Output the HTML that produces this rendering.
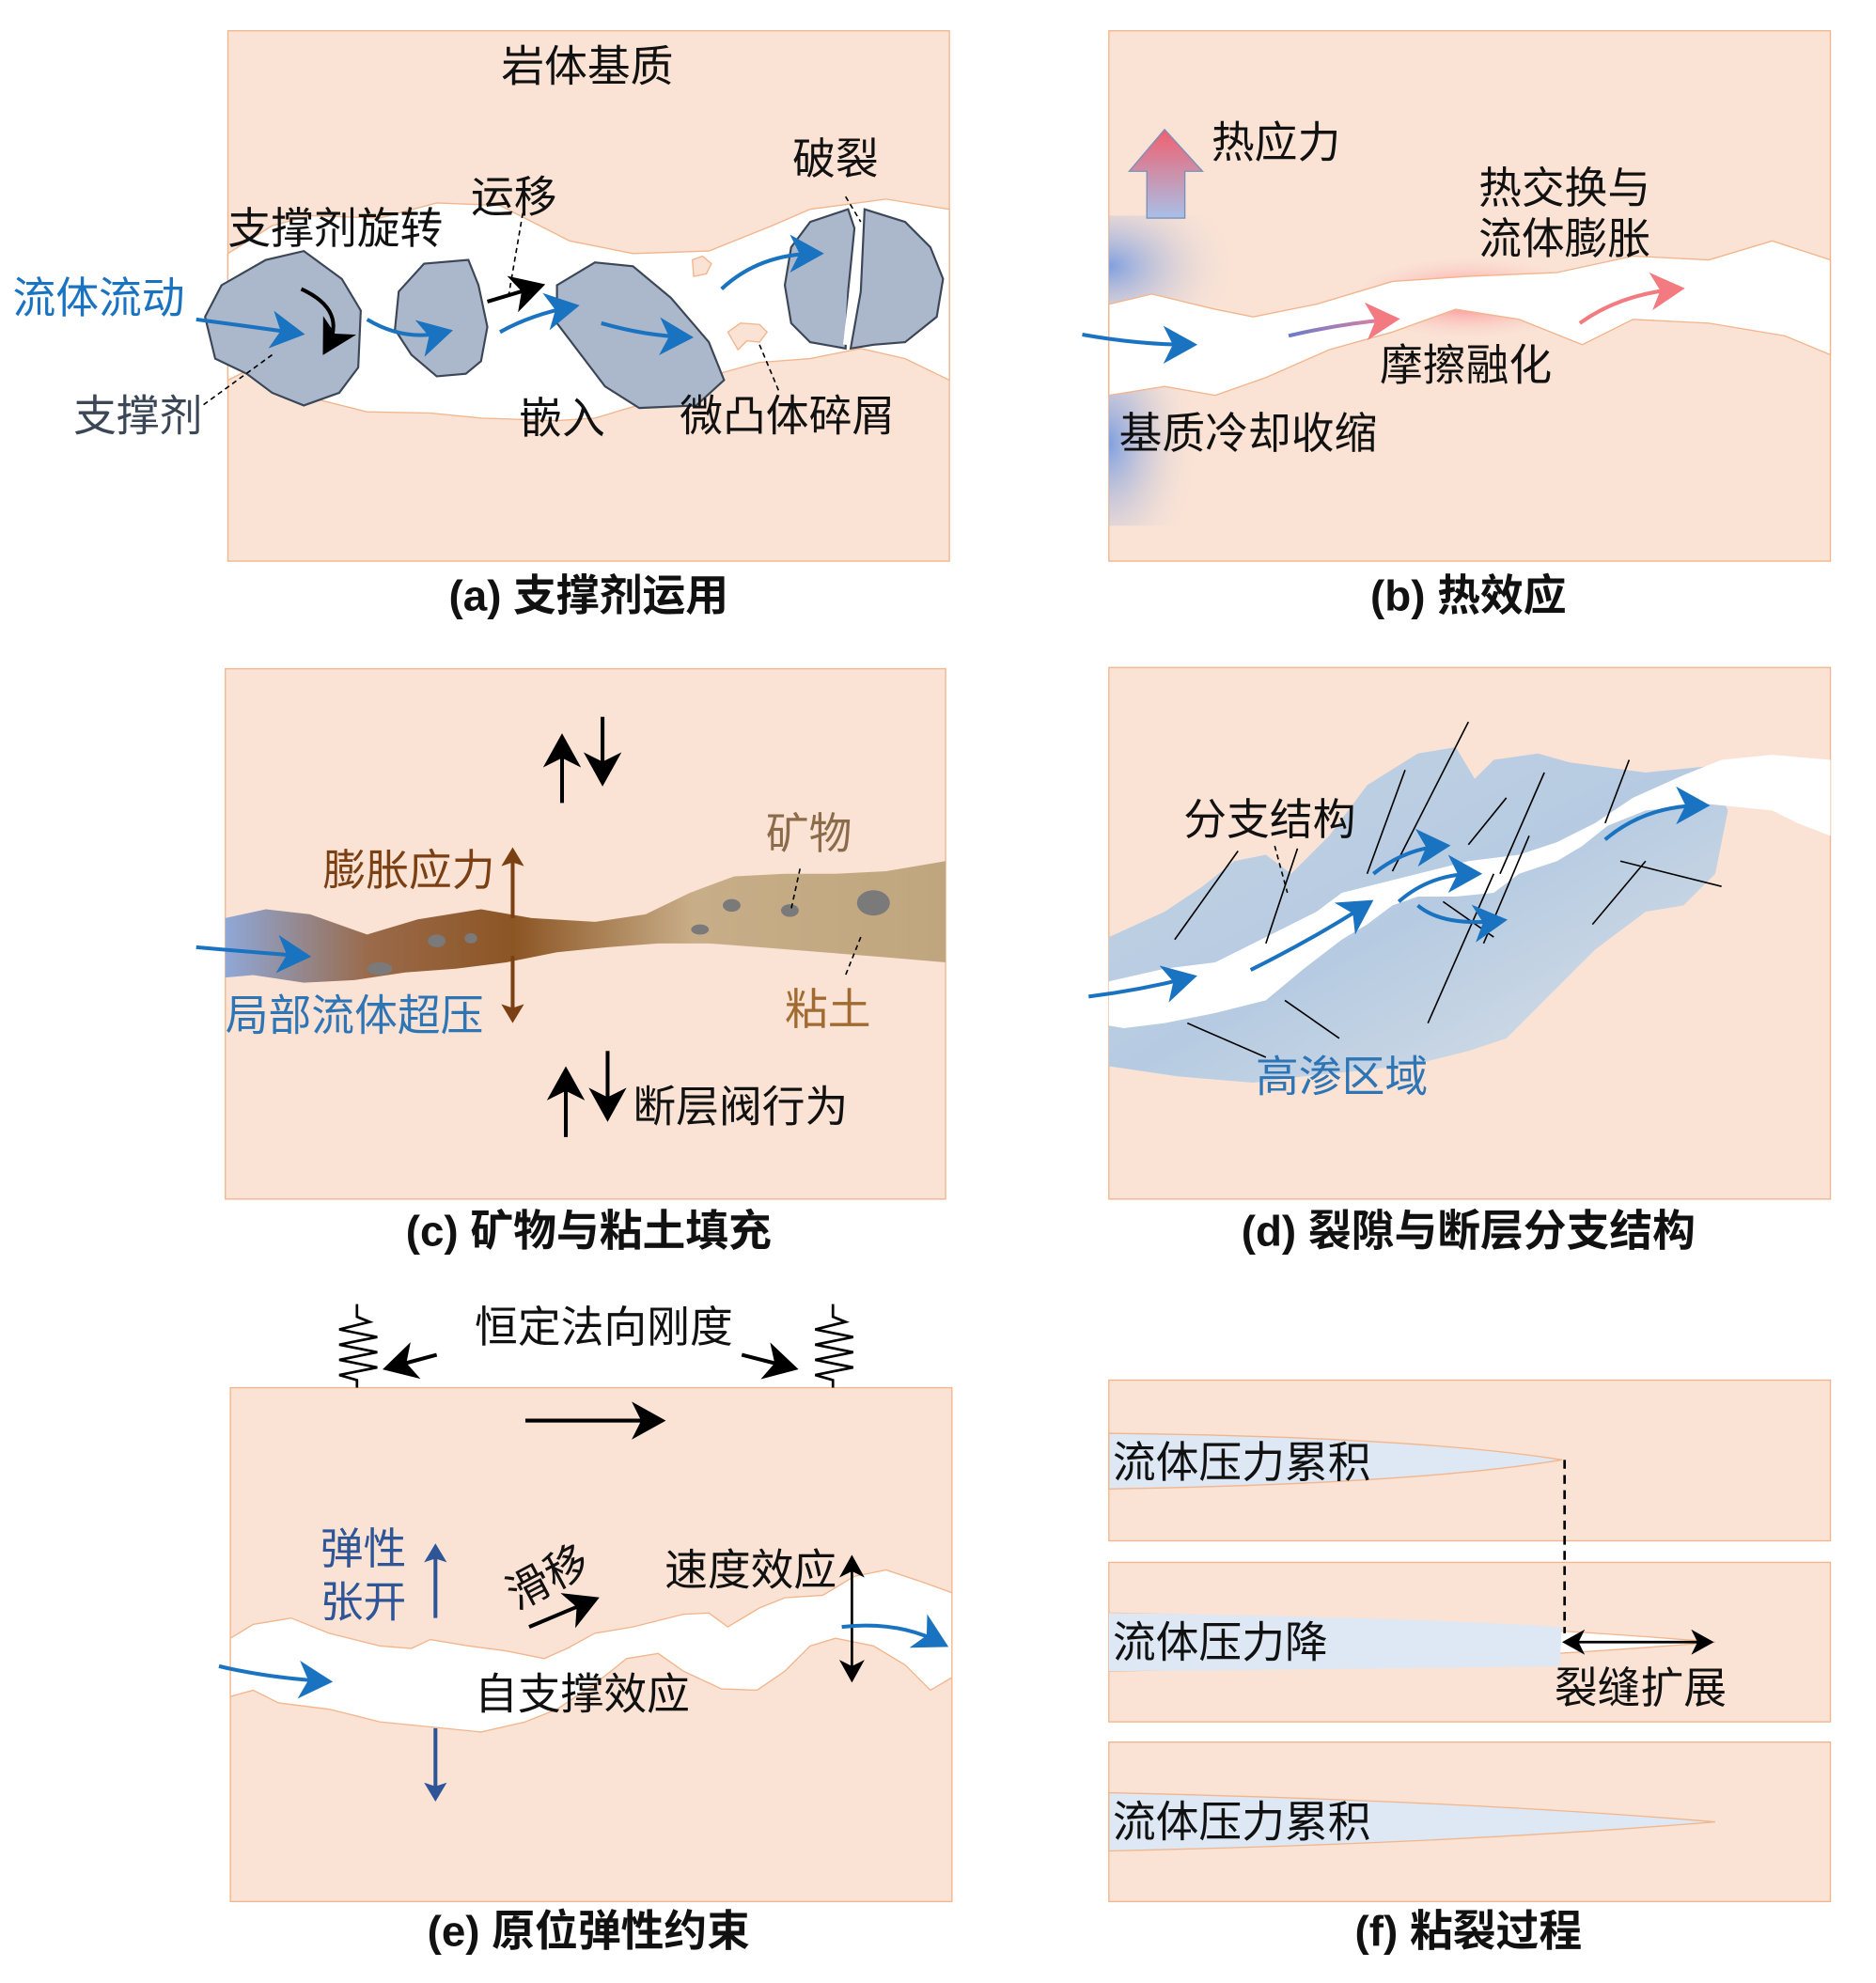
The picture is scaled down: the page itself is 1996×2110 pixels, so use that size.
<!DOCTYPE html>
<html><head><meta charset="utf-8"><style>
html,body{margin:0;padding:0;background:#fff}
svg{display:block}
text{font-family:"Liberation Sans","Noto Sans CJK SC",sans-serif}
.l{font-size:34px;fill:#111}
.cap{font-size:34px;font-weight:bold;fill:#111}
</style></head><body>
<svg width="1996" height="2110" viewBox="0 0 1482 1566" xmlns="http://www.w3.org/2000/svg">
<defs>
<marker id="ab" markerWidth="10" markerHeight="10" refX="7" refY="5" orient="auto" markerUnits="strokeWidth"><path d="M0,0 L9,5 L0,10 L2.5,5z" fill="#1a73c0"/></marker>
<marker id="ak" markerWidth="10" markerHeight="10" refX="7" refY="5" orient="auto-start-reverse" markerUnits="strokeWidth"><path d="M0,0 L9,5 L0,10 L2.5,5z" fill="#000"/></marker>
<marker id="ar" markerWidth="10" markerHeight="10" refX="7" refY="5" orient="auto" markerUnits="strokeWidth"><path d="M0,0 L9,5 L0,10 L2.5,5z" fill="#f27a80"/></marker>
<marker id="an" markerWidth="6" markerHeight="6" refX="4" refY="3" orient="auto" markerUnits="strokeWidth"><path d="M0,0 L5,3 L0,6 L1,3z" fill="#2e5597"/></marker>
<marker id="abr" markerWidth="6" markerHeight="6" refX="4" refY="3" orient="auto" markerUnits="strokeWidth"><path d="M0,0 L5,3 L0,6 L1,3z" fill="#7a3f12"/></marker>
<linearGradient id="up" x1="0" y1="0" x2="0" y2="1"><stop offset="0" stop-color="#f0606e"/><stop offset="1" stop-color="#a8c0e8"/></linearGradient>
<radialGradient id="cold1" cx="0" cy="0.5" r="0.9"><stop offset="0" stop-color="#7f9fe0"/><stop offset="1" stop-color="#fae3d5" stop-opacity="0"/></radialGradient>
<radialGradient id="hot" cx="0.5" cy="0.5" r="0.5"><stop offset="0" stop-color="#ff6a78"/><stop offset="1" stop-color="#fae3d5" stop-opacity="0"/></radialGradient>
<linearGradient id="clay" x1="0" y1="0" x2="1" y2="0"><stop offset="0" stop-color="#8fa8d8"/><stop offset="0.2" stop-color="#9a6a4a"/><stop offset="0.4" stop-color="#8c5524"/><stop offset="0.65" stop-color="#c8ae88"/><stop offset="1" stop-color="#c0a67e"/></linearGradient>
<linearGradient id="perm" x1="0" y1="0" x2="1" y2="1"><stop offset="0" stop-color="#c4d2e2"/><stop offset="0.5" stop-color="#b6cbe2"/><stop offset="1" stop-color="#dde1e6"/></linearGradient>
<linearGradient id="pg" x1="0" y1="0" x2="1" y2="0"><stop offset="0" stop-color="#6a7cc8"/><stop offset="1" stop-color="#e880a0"/></linearGradient>
</defs>
<g stroke="#f2b58c" stroke-width="1" fill="#fae3d5">
<rect x="180" y="24" width="570" height="419"/>
<rect x="876" y="24" width="570" height="419"/>
<rect x="178" y="528" width="569" height="419"/>
<rect x="876" y="527" width="570" height="420"/>
<rect x="182" y="1096" width="570" height="406"/>
<rect x="876" y="1090" width="570" height="127"/>
<rect x="876" y="1234" width="570" height="126"/>
<rect x="876" y="1376" width="570" height="126"/>
</g>

<!-- Panel a -->
<path d="M180,200 L215,178 L245,170 L300,172 L345,160 L395,162 L450,190 L500,200 L560,198 L610,178 L640,165 L700,157 L750,165 L750,300 L715,283 L680,275 L640,283 L600,286 L560,297 L520,315 L470,330 L440,332 L380,330 L340,326 L290,325 L250,315 L220,300 L200,290 L180,300 Z" fill="#fff" stroke="#f2b58c"/>
<path d="M547,205 L555,202 L562,208 L558,216 L548,218Z" fill="#fae3d5" stroke="#f2b58c"/>
<path d="M575,262 L585,255 L600,256 L606,262 L600,270 L590,269 L583,276Z" fill="#fae3d5" stroke="#f2b58c"/>
<g fill="#abb7cb" stroke="#3b4757" stroke-width="1.6">
<path d="M210,205 L240,198 L270,220 L285,245 L283,290 L268,310 L240,320 L215,310 L195,295 L170,283 L162,250 L175,225Z"/>
<path d="M335,208 L370,205 L378,225 L385,258 L380,285 L368,295 L345,297 L325,280 L312,260 L315,230Z"/>
<path d="M470,207 L500,210 L530,235 L560,270 L572,300 L550,320 L505,322 L478,305 L440,255 L440,225Z"/>
<path d="M640,175 L670,165 L675,180 L670,230 L668,275 L640,270 L625,255 L620,225 L625,195Z"/>
<path d="M683,165 L715,175 L735,195 L745,220 L740,250 L715,270 L690,272 L672,275 L680,230Z"/>
</g>
<line x1="680" y1="168" x2="668" y2="272" stroke="#fff" stroke-width="4"/>
<g fill="none" stroke="#1a73c0" stroke-width="3" marker-end="url(#ab)">
<path d="M155,252 Q200,258 235,263"/>
<path d="M290,252 Q320,270 352,262"/>
<path d="M395,262 Q420,248 452,242"/>
<path d="M475,255 Q510,265 542,266"/>
<path d="M570,228 Q600,200 645,200"/>
</g>
<path d="M238,228 Q275,245 258,275" fill="none" stroke="#000" stroke-width="3" marker-end="url(#ak)"/>
<line x1="385" y1="238" x2="425" y2="226" stroke="#000" stroke-width="3" marker-end="url(#ak)"/>
<g stroke="#000" stroke-width="1.2" stroke-dasharray="4,3" fill="none">
<line x1="413" y1="168" x2="402" y2="232"/>
<line x1="215" y1="280" x2="160" y2="320"/>
<line x1="600" y1="272" x2="615" y2="308"/>
<line x1="668" y1="155" x2="680" y2="175"/>
</g>
<text class="l" x="396" y="64">岩体基质</text>
<text class="l" x="626" y="137">破裂</text>
<text class="l" x="372" y="167">运移</text>
<text class="l" x="180" y="192">支撑剂旋转</text>
<text class="l" x="10" y="247" style="fill:#1a73c0">流体流动</text>
<text class="l" x="58" y="340" style="fill:#3b4757">支撑剂</text>
<text class="l" x="410" y="342">嵌入</text>
<text class="l" x="537" y="340">微凸体碎屑</text>
<text class="cap" x="465" y="482" text-anchor="middle">(a) 支撑剂运用</text>

<!-- Panel b -->
<rect x="876" y="170" width="115" height="80" fill="url(#cold1)"/>
<rect x="876" y="285" width="80" height="130" fill="url(#cold1)"/>
<ellipse cx="1160" cy="235" rx="100" ry="35" fill="url(#hot)"/>
<path d="M876,240 L910,232 L960,244 L990,250 L1040,240 L1100,222 L1160,218 L1230,215 L1290,202 L1350,205 L1400,190 L1446,205 L1446,280 L1410,265 L1350,255 L1290,252 L1250,272 L1200,252 L1150,244 L1100,262 L1050,276 L1000,298 L960,312 L920,305 L876,312 Z" fill="#fff" stroke="#f2b58c"/>
<path d="M892,135 L920,102 L950,135 L936,135 L936,172 L906,172 L906,135Z" fill="url(#up)" stroke="#7a90b8" stroke-width="1"/>
<g fill="none" stroke-width="3">
<path d="M855,264 Q900,272 940,272" stroke="#1a73c0" marker-end="url(#ab)"/>
<path d="M1018,265 Q1060,255 1100,252" stroke="url(#pg)" marker-end="url(#ar)"/>
<path d="M1248,255 Q1280,232 1325,228" stroke="#f27a80" marker-end="url(#ar)"/>
</g>
<text class="l" x="957" y="124">热应力</text>
<text class="l" x="1168" y="160">热交换与</text>
<text class="l" x="1168" y="200">流体膨胀</text>
<text class="l" x="1090" y="300">摩擦融化</text>
<text class="l" x="884" y="354">基质冷却收缩</text>
<text class="cap" x="1160" y="482" text-anchor="middle">(b) 热效应</text>

<!-- Panel c -->
<path d="M178,725 L210,718 L245,722 L290,738 L330,726 L380,718 L420,725 L470,728 L510,722 L545,705 L580,692 L620,690 L660,690 L700,688 L747,680 L747,760 L700,756 L650,752 L600,748 L560,745 L520,745 L480,748 L440,752 L400,760 L360,765 L320,768 L280,774 L240,776 L200,770 L178,772 Z" fill="url(#clay)"/>
<g fill="#7a7a7a">
<ellipse cx="345" cy="743" rx="7" ry="5"/><ellipse cx="372" cy="741" rx="5" ry="4"/><ellipse cx="300" cy="765" rx="10" ry="5"/>
<ellipse cx="578" cy="715" rx="7" ry="5"/><ellipse cx="624" cy="719" rx="7" ry="5"/><ellipse cx="690" cy="713" rx="13" ry="10"/><ellipse cx="553" cy="734" rx="7" ry="4"/>
</g>
<path d="M155,748 Q200,752 240,755" fill="none" stroke="#1a73c0" stroke-width="3" marker-end="url(#ab)"/>
<g stroke="#7a3f12" stroke-width="3" marker-end="url(#abr)"><line x1="405" y1="725" x2="405" y2="672"/><line x1="405" y1="755" x2="405" y2="805"/></g>
<g stroke="#000" stroke-width="3" marker-end="url(#ak)">
<line x1="444" y1="634" x2="444" y2="585"/><line x1="476" y1="566" x2="476" y2="615"/>
<line x1="447" y1="898" x2="447" y2="848"/><line x1="480" y1="830" x2="480" y2="880"/>
</g>
<g stroke="#000" stroke-width="1.2" stroke-dasharray="4,3"><line x1="632" y1="686" x2="625" y2="718"/><line x1="680" y1="740" x2="668" y2="770"/></g>
<text class="l" x="605" y="670" style="fill:#8b6b4a">矿物</text>
<text class="l" x="255" y="699" style="fill:#7a3f12">膨胀应力</text>
<text class="l" x="620" y="809" style="fill:#a06a30">粘土</text>
<text class="l" x="178" y="814" style="fill:#2e75b6">局部流体超压</text>
<text class="l" x="500" y="886">断层阀行为</text>
<text class="cap" x="465" y="984" text-anchor="middle">(c) 矿物与粘土填充</text>

<!-- Panel d -->
<path d="M876,740 L920,720 L950,700 L975,680 L1000,675 L1020,690 L1050,660 L1080,620 L1120,595 L1150,590 L1165,615 L1180,600 L1215,595 L1240,602 L1300,610 L1350,605 L1365,640 L1355,690 L1330,715 L1300,720 L1260,750 L1220,790 L1190,820 L1160,830 L1120,840 L1080,845 L1030,850 L990,855 L930,850 L876,842 Z" fill="url(#perm)"/>
<path d="M876,775 L920,765 L960,760 L1000,740 L1040,720 L1060,705 L1080,700 L1120,690 L1160,680 L1200,675 L1230,665 L1260,650 L1290,630 L1330,612 L1360,600 L1400,596 L1446,600 L1446,660 L1420,650 L1400,640 L1350,635 L1300,640 L1270,652 L1250,668 L1230,680 L1200,690 L1180,705 L1150,708 L1120,708 L1100,715 L1080,730 L1060,742 L1030,765 L1000,790 L960,800 L920,808 L888,812 L876,810 Z" fill="#fff"/>
<g stroke="#000" stroke-width="1.2" fill="none">
<line x1="928" y1="742" x2="978" y2="672"/><line x1="1000" y1="745" x2="1025" y2="670"/>
<line x1="1080" y1="690" x2="1110" y2="608"/><line x1="1100" y1="688" x2="1160" y2="570"/>
<line x1="1160" y1="667" x2="1190" y2="630"/><line x1="1185" y1="690" x2="1220" y2="610"/>
<line x1="1268" y1="650" x2="1287" y2="600"/><line x1="1128" y1="808" x2="1180" y2="690"/>
<line x1="1172" y1="745" x2="1208" y2="660"/><line x1="1258" y1="730" x2="1300" y2="680"/>
<line x1="1280" y1="680" x2="1360" y2="700"/><line x1="1140" y1="712" x2="1180" y2="740"/>
<line x1="1015" y1="790" x2="1058" y2="820"/><line x1="938" y1="808" x2="1000" y2="835"/>
</g>
<line x1="1007" y1="668" x2="1017" y2="705" stroke="#000" stroke-width="1.2" stroke-dasharray="4,3"/>
<g fill="none" stroke="#1a73c0" stroke-width="3" marker-end="url(#ab)">
<path d="M860,787 Q900,782 940,772"/>
<path d="M988,766 Q1040,740 1080,714"/>
<path d="M1085,690 Q1110,670 1140,668"/>
<path d="M1105,712 Q1130,690 1165,690"/>
<path d="M1120,715 Q1140,732 1185,727"/>
<path d="M1268,663 Q1300,636 1345,636"/>
</g>
<text class="l" x="935" y="659">分支结构</text>
<text class="l" x="992" y="862" style="fill:#2e75b6">高渗区域</text>
<text class="cap" x="1160" y="984" text-anchor="middle">(d) 裂隙与断层分支结构</text>

<!-- Panel e -->
<path d="M182,1294 L200,1283 L230,1278 L260,1290 L300,1300 L325,1302 L340,1295 L370,1300 L400,1304 L430,1310 L448,1302 L470,1290 L500,1285 L540,1275 L560,1274 L575,1285 L600,1270 L620,1262 L650,1260 L675,1245 L700,1240 L730,1250 L752,1258 L752,1325 L735,1335 L715,1315 L690,1300 L660,1294 L640,1300 L620,1320 L598,1335 L570,1334 L540,1320 L520,1306 L495,1310 L470,1330 L440,1350 L415,1360 L380,1368 L340,1364 L300,1360 L260,1350 L220,1345 L200,1335 L182,1340 Z" fill="#fff" stroke="#f2b58c"/>
<g fill="none" stroke="#000" stroke-width="2">
<path d="M282,1030 L282,1040 L292,1044 L268,1050 L298,1056 L268,1062 L298,1068 L268,1074 L298,1080 L268,1086 L282,1090 L282,1096"/>
<path d="M658,1030 L658,1040 L668,1044 L644,1050 L674,1056 L644,1062 L674,1068 L644,1074 L674,1080 L644,1086 L658,1090 L658,1096"/>
</g>
<g stroke="#000" stroke-width="3" marker-end="url(#ak)">
<line x1="345" y1="1070" x2="308" y2="1080"/><line x1="586" y1="1070" x2="625" y2="1080"/>
<line x1="415" y1="1122" x2="520" y2="1122"/><line x1="418" y1="1285" x2="468" y2="1264"/>
</g>
<line x1="673" y1="1232" x2="673" y2="1325" stroke="#000" stroke-width="2" marker-end="url(#ak)" marker-start="url(#ak)"/>
<g stroke="#2e5597" stroke-width="3" marker-end="url(#an)"><line x1="344" y1="1278" x2="344" y2="1222"/><line x1="344" y1="1365" x2="344" y2="1420"/></g>
<g fill="none" stroke="#1a73c0" stroke-width="3" marker-end="url(#ab)">
<path d="M173,1316 Q210,1325 257,1328"/><path d="M665,1285 Q710,1280 744,1298"/>
</g>
<text class="l" x="375" y="1060">恒定法向刚度</text>
<text class="l" x="253" y="1235" style="fill:#2e5597">弹性</text>
<text class="l" x="253" y="1277" style="fill:#2e5597">张开</text>
<text class="l" x="0" y="0" transform="translate(408,1272) rotate(-28)">滑移</text>
<text class="l" x="525" y="1252">速度效应</text>
<text class="l" x="375" y="1350">自支撑效应</text>
<text class="cap" x="465" y="1537" text-anchor="middle">(e) 原位弹性约束</text>

<!-- Panel f -->
<path d="M876,1132 Q1120,1135 1234,1153 Q1120,1172 876,1176 Z" fill="#dde8f4" stroke="#f2b58c"/>
<path d="M876,1274 Q1150,1280 1355,1297 Q1150,1314 876,1320 Z" fill="#fff" stroke="#f2b58c"/>
<path d="M876,1274 Q1100,1277 1234,1285 L1232,1316 Q1100,1318 876,1320 Z" fill="#dde8f4"/>
<path d="M876,1416 Q1150,1422 1355,1439 Q1150,1456 876,1462 Z" fill="#dde8f4" stroke="#f2b58c"/>
<line x1="1236" y1="1153" x2="1236" y2="1290" stroke="#000" stroke-width="2" stroke-dasharray="7,5"/>
<line x1="1238" y1="1297" x2="1350" y2="1297" stroke="#000" stroke-width="2" marker-end="url(#ak)" marker-start="url(#ak)"/>
<text class="l" x="879" y="1167">流体压力累积</text>
<text class="l" x="879" y="1309">流体压力降</text>
<text class="l" x="1228" y="1345">裂缝扩展</text>
<text class="l" x="879" y="1451">流体压力累积</text>
<text class="cap" x="1160" y="1537" text-anchor="middle">(f) 粘裂过程</text>
</svg>
</body></html>
